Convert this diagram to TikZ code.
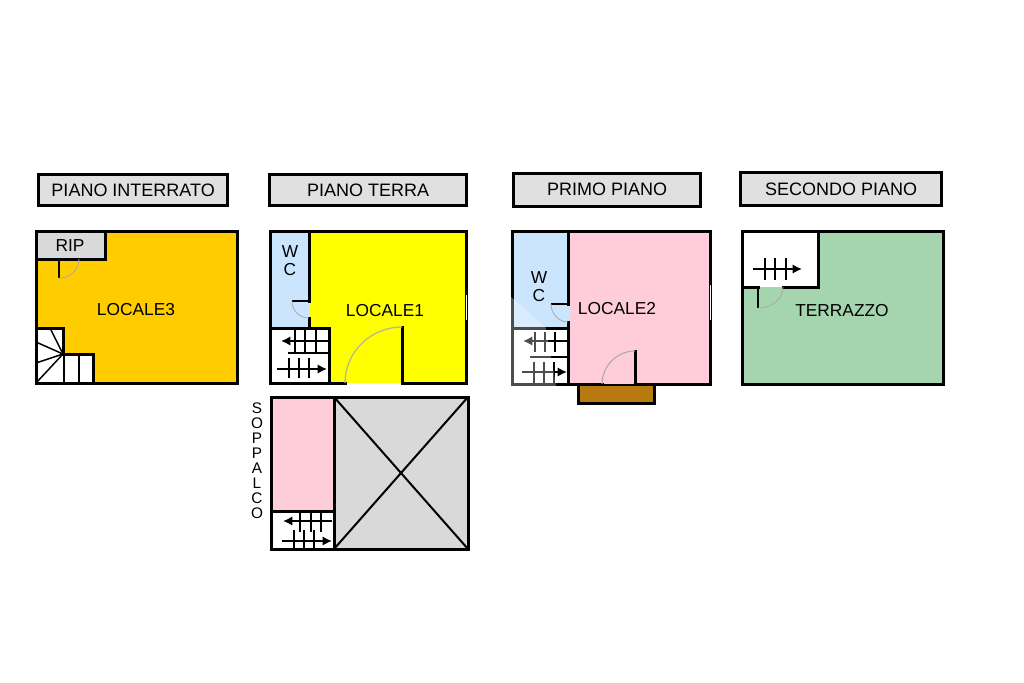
\documentclass[tikz,border=0pt]{standalone}
\usepackage{fontspec}
\setmainfont{Liberation Sans}
\usetikzlibrary{arrows.meta, positioning}
\definecolor{floorgrey}{RGB}{217,217,217}
\definecolor{headgrey}{RGB}{224,224,224}
\definecolor{localeorange}{RGB}{255,204,0}
\definecolor{localeyellow}{RGB}{255,255,0}
\definecolor{localepink}{RGB}{255,204,217}
\definecolor{wcblue}{RGB}{204,229,255}
\definecolor{terracegreen}{RGB}{165,213,174}
\definecolor{balconybrown}{RGB}{184,122,15}
\definecolor{doorgrey}{RGB}{170,170,170}
\tikzset{
  wall/.style={line width=2.25pt, line cap=rect, line join=miter},
  thinline/.style={line width=0.85pt},
  doorarc/.style={line width=0.6pt, doorgrey},
  stairleft/.style={line width=1.3pt, -{Latex[length=7pt,width=7pt]}},
  roomlabel/.style={font=\fontsize{13}{13.5}\selectfont, align=center, inner sep=0pt},
  headbox/.style={draw, wall, fill=headgrey, font=\fontsize{13.5}{15}\selectfont, inner sep=0pt, outer sep=0pt, anchor=north west}
}
\begin{document}
\begin{tikzpicture}[x=0.75pt, y=-0.75pt]
    \useasboundingbox (0,0) rectangle (1024,682);
    \fill[white] (0,0) rectangle (1024,682);

    % Headers
    \node[headbox, minimum width=142pt, minimum height=23.6pt] (hInterrato) at (38.5,174.5) {PIANO INTERRATO};
    \node[headbox, minimum width=148pt, minimum height=23.25pt] (hTerra) at (269.5,174.5) {PIANO TERRA};
    \node[headbox, minimum width=140.6pt, minimum height=24.4pt] (hPrimo) at (513.5,173.5) {PRIMO PIANO};
    \node[headbox, minimum width=151pt, minimum height=25pt] (hSecondo) at (740.5,172.5) {SECONDO PIANO};

    % Piano interrato
    \fill[localeorange] (36,231) rectangle (237,383);
    \fill[floorgrey] (36,231) rectangle (105,259);
    \fill[white] (36,328) rectangle (63,383);
    \fill[white] (63,354) rectangle (93,383);
    \draw[wall] (36,231) rectangle (237,383);
    \draw[wall] (36,259) -- (105,259) -- (105,231);
    \draw[wall] (36,328) -- (63,328) -- (63,354) -- (93,354) -- (93,383);
    \draw[thinline] (59,259) -- (59,278);
    \draw[doorarc] (59,278) .. controls (70,278) and (79,270) .. (79,259);
    \foreach \fx/\fy in {36/383, 36/363, 36/342, 50/328}
        \draw[line width=1.1pt] (63,354) -- (\fx,\fy);
    \foreach \sx in {64,79}
        \draw[line width=1.1pt] (\sx,354) -- (\sx,383);
    \node[roomlabel] (rip) at (70,246) {RIP};
    \node[roomlabel] (locale3) at (136,310) {LOCALE3};

    % Piano terra
    \fill[localeyellow] (270,231) rectangle (466,383);
    \fill[wcblue] (270,231) rectangle (309,328);
    \fill[white] (270,328) rectangle (329,383);
    \draw[wall] (345,383) -- (270,383) -- (270,231) -- (466,231) -- (466,383) -- (402,383) -- (402,327);
    \draw[wall] (309,231) -- (309,301);
    \draw[wall] (309,318) -- (309,328);
    \draw[wall] (270,328) -- (329,328) -- (329,383);
    \draw[white, line width=0.7pt] (466.3,295) -- (466.3,320);
    \draw[thinline] (309,301) -- (292,301);
    \draw[doorarc] (292,301) .. controls (292,311) and (300,318) .. (309,318);
    \draw[line width=1pt, doorgrey!80!localeyellow] (402,327) .. controls (371,327) and (345,352) .. (345,383);
    \draw[stairleft] (328,341) -- (281,341);
    \foreach \sx in {295,305,316}
        \draw[thinline] (\sx,330) -- (\sx,352);
    \draw[line width=1.3pt] (288,353) -- (329,353);
    \draw[stairleft] (277,369) -- (327,369);
    \foreach \sx in {289,299,309}
        \draw[thinline] (\sx,358) -- (\sx,378);
    \node[roomlabel] (wcT) at (290,261) {W\\C};
    \node[roomlabel] (locale1) at (385,311) {LOCALE1};

    % Soppalco
    \fill[localepink] (271,397) rectangle (334,511);
    \fill[floorgrey] (334,397) rectangle (468,549);
    \draw[wall] (271,397) rectangle (468,549);
    \draw[wall] (334,397) -- (334,549);
    \draw[wall] (271,511) -- (334,511);
    \draw[line width=1.5pt] (334,397) -- (468,549);
    \draw[line width=1.5pt] (334,549) -- (468,397);
    \draw[stairleft] (332,521) -- (283,521);
    \foreach \sx in {300,311,321}
        \draw[thinline] (\sx,513) -- (\sx,532);
    \draw[stairleft] (282,541) -- (332,541);
    \foreach \sx in {294,304,314}
        \draw[thinline] (\sx,530) -- (\sx,549);
    \node[font=\fontsize{11.5}{11.25}\selectfont, align=center, inner sep=0pt] (soppalco) at (257,461) {S\\O\\P\\P\\A\\L\\C\\O};

    % Primo piano
    \fill[balconybrown] (578,384) rectangle (654,403);
    \draw[wall] (578,384) rectangle (654,403);
    \fill[localepink] (512,231) rectangle (710,384);
    \fill[wcblue] (512,231) rectangle (570,328);
    \fill[white] (512,328) rectangle (568,384);
    \draw[wall] (602,384) -- (512,384) -- (512,231) -- (710,231) -- (710,384) -- (635,384) -- (635,351);
    \draw[wall] (568,231) -- (568,304);
    \draw[wall] (568,322) -- (568,384);
    \draw[wall] (512,328) -- (568,328);
    \draw[white, line width=0.7pt] (710.3,285) -- (710.3,320);
    \draw[thinline] (568,304) -- (551,304);
    \draw[doorarc] (551,304) .. controls (551,314) and (559,322) .. (568,322);
    \draw[line width=0.8pt, doorgrey] (635,351) .. controls (617,351) and (602,366) .. (602,384);
    \draw[stairleft] (568,341) -- (523,341);
    \foreach \sx in {535,545,555}
        \draw[thinline] (\sx,332) -- (\sx,352);
    \draw[line width=1.3pt] (530,357) -- (568,357);
    \draw[stairleft] (522,372) -- (567,372);
    \foreach \sx in {534,544,554}
        \draw[thinline] (\sx,362) -- (\sx,383);
    \node[roomlabel] (wcP) at (539,287) {W\\C};
    \node[roomlabel] (locale2) at (617,309) {LOCALE2};
    % faded stamp over the left wall
    \fill[white, opacity=0.3] (510,296) -- (546,328) -- (556,386) -- (510,386) -- cycle;

    % Secondo piano
    \fill[terracegreen] (742,231) rectangle (943,384);
    \fill[white] (742,231) rectangle (818,287);
    \draw[wall] (742,231) rectangle (943,384);
    \draw[wall] (818,231) -- (818,287) -- (783,287);
    \draw[wall] (742,287) -- (758,287);
    \draw[thinline] (758,287) -- (758,308);
    \draw[doorarc] (758,308) .. controls (772,308) and (783,299) .. (783,287);
    \draw[stairleft] (753,269) -- (802,269);
    \foreach \sx in {765,775,786}
        \draw[thinline] (\sx,258) -- (\sx,280);
    \node[roomlabel] (terrazzo) at (842,311) {TERRAZZO};
\end{tikzpicture}
\end{document}
